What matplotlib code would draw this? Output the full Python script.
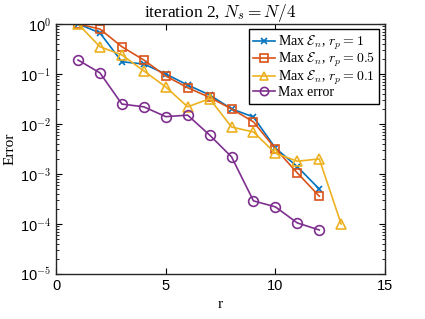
import matplotlib
matplotlib.use("Agg")
import matplotlib.pyplot as plt
from matplotlib.ticker import LogLocator, NullFormatter, FixedLocator

plt.rcParams["mathtext.fontset"] = "cm"

# data
r = [1, 2, 3, 4, 5, 6, 7, 8, 9, 10, 11, 12]
r_yellow = [1, 2, 3, 4, 5, 6, 7, 8, 9, 10, 11, 12, 13]
err_rp1 = [1.0, 0.66, 0.175, 0.158, 0.1, 0.06, 0.038, 0.02, 0.0138, 0.0033, 0.0014, 0.0005]
err_rp05 = [1.0, 0.79, 0.35, 0.19, 0.091, 0.053, 0.034, 0.02, 0.011, 0.0032, 0.00105, 0.00036]
err_rp01 = [1.0, 0.35, 0.24, 0.115, 0.055, 0.022, 0.032, 0.0087, 0.0069, 0.0026, 0.0018, 0.002, 0.0001]
max_error = [0.19, 0.105, 0.025, 0.022, 0.014, 0.015, 0.006, 0.0022, 0.00029, 0.00022, 0.000105, 0.000076]

labels = [r"Max $\mathcal{E}_n$, $r_p = 1$",
          r"Max $\mathcal{E}_n$, $r_p = 0.5$",
          r"Max $\mathcal{E}_n$, $r_p = 0.1$",
          "Max error"]
colors = ["#0072BD", "#D95319", "#EDB120", "#7E2F8E"]
x_ticks = [0, 5, 10, 15]
y_ticks = [1e-5, 1e-4, 1e-3, 1e-2, 1e-1, 1e0]
y_ticklabels = ["10$^{-5}$", "10$^{-4}$", "10$^{-3}$", "10$^{-2}$", "10$^{-1}$", "10$^{0}$"]

fig = plt.figure(figsize=(4.25, 3.19), dpi=100)
ax = fig.add_axes([0.132, 0.141, 0.774, 0.784])

ax.semilogy(r, err_rp1, "-x", color=colors[0], lw=1.2, ms=5, mew=1.2, label=labels[0])
ax.semilogy(r, err_rp05, "-s", color=colors[1], lw=1.2, ms=6, mew=1.2, mfc="none", label=labels[1])
ax.semilogy(r_yellow, err_rp01, "-^", color=colors[2], lw=1.2, ms=7, mew=1.2, mfc="none", label=labels[2])
ax.semilogy(r, max_error, "-o", color=colors[3], lw=1.2, ms=7, mew=1.2, mfc="none", label=labels[3])

ax.set_xlim(0, 15)
ax.set_ylim(1e-5, 1e0)
ax.xaxis.set_major_locator(FixedLocator(x_ticks))
ax.set_yticks(y_ticks)
ax.set_yticklabels(y_ticklabels)
ax.yaxis.set_minor_locator(LogLocator(base=10, subs=range(2, 10), numticks=20))
ax.yaxis.set_minor_formatter(NullFormatter())
ax.tick_params(which="both", direction="in", top=True, right=True, labelsize=10.5)
ax.tick_params(which="major", length=4)
ax.tick_params(which="minor", length=2)
for lab in ax.get_xticklabels() + ax.get_yticklabels():
    lab.set_fontfamily("Liberation Sans")
for s in ax.spines.values():
    s.set_linewidth(1.0)
    s.set_color("#262626")

ax.set_xlabel("r", family="Liberation Serif", fontsize=11)
ax.set_ylabel("Error", family="Liberation Serif", fontsize=11, labelpad=2)
ax.set_title(r"iteration 2, $N_s = N/4$", family="Liberation Serif", fontsize=12.5, pad=4)

leg = ax.legend(loc="upper right", prop={"family": "Liberation Serif", "size": 10},
                fancybox=False, framealpha=1, edgecolor="black", handlelength=1.6,
                handletextpad=0.2, borderpad=0.3, labelspacing=-0.05, borderaxespad=0.4,
                markerscale=0.85)
leg.get_frame().set_linewidth(1.0)

fig.savefig("out.png", dpi=100)
